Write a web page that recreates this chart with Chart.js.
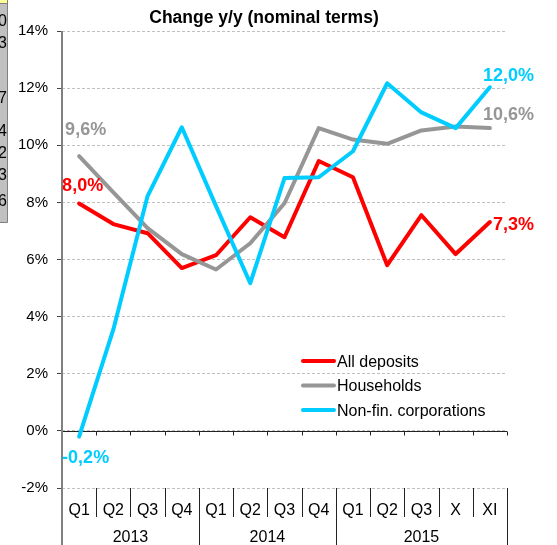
<!DOCTYPE html>
<html><head><meta charset="utf-8">
<script src="https://cdn.jsdelivr.net/npm/chart.js@4/dist/chart.umd.min.js"></script>
<style>html,body{margin:0;padding:0;background:#fff}canvas{display:block}</style>
</head><body>
<canvas id="c" width="557" height="545"></canvas>
<script>
const categories = ['Q1','Q2','Q3','Q4','Q1','Q2','Q3','Q4','Q1','Q2','Q3','X','XI'];
const years = ['2013','2014','2015'];
const yearSpans = [4,4,5];
const allDeposits = [7.96,7.24,6.92,5.70,6.15,7.48,6.78,9.45,8.88,5.80,7.55,6.19,7.31];
const households  = [9.62,8.35,7.10,6.19,5.65,6.57,7.97,10.60,10.20,10.05,10.52,10.66,10.60];
const nonFinCorp  = [-0.20,3.55,8.22,10.63,7.87,5.17,8.85,8.88,9.79,12.17,11.15,10.60,12.03];
const seriesNames = ['All deposits','Households','Non-fin. corporations'];
const yTicks = [-2,0,2,4,6,8,10,12,14];
const titleText = 'Change y/y (nominal terms)';
const fragmentDigits = ['0','3','7','4','2','3','6'];

const FONT = '"Liberation Sans", Arial, sans-serif';
const colors = ['#ff0000','#969696','#00ccff'];
const fmt = v => v.toFixed(1).replace('.', ',') + '%';

// label placement per series: [first dx, first dy, last dx, last dy] (relative to point, baseline)
const labelOffsets = [
  [-17, -13, 3, 8],
  [-14, -21, -7, -8],
  [-17, 26, -7, -6]
];

const deco = {
  id: 'deco',
  beforeDraw(chart) {
    const ctx = chart.ctx;
    ctx.save();
    ctx.fillStyle = '#fff';
    ctx.fillRect(0, 0, chart.width, chart.height);
    ctx.restore();
  },
  beforeDatasetsDraw(chart) {
    const ctx = chart.ctx, xs = chart.scales.x, ys = chart.scales.y, ca = chart.chartArea;
    const z = Math.round(ys.getPixelForValue(0)) + 0.5;
    const w = xs.getPixelForValue(1) - xs.getPixelForValue(0);
    const x0 = xs.getPixelForValue(0) - w / 2;
    ctx.save();
    ctx.strokeStyle = '#222';
    ctx.lineWidth = 1;
    ctx.beginPath();
    ctx.moveTo(ca.left, z); ctx.lineTo(ca.right, z);
    for (let i = 1; i <= categories.length; i++) {
      const bx = Math.round(x0 + i * w) + 0.5;
      ctx.moveTo(bx, z); ctx.lineTo(bx, z + 4);
    }
    ctx.stroke();
    ctx.restore();
  },
  afterDraw(chart) {
    const ctx = chart.ctx, xs = chart.scales.x, ys = chart.scales.y, ca = chart.chartArea;
    const w = xs.getPixelForValue(1) - xs.getPixelForValue(0);
    const x0 = xs.getPixelForValue(0) - w / 2;
    ctx.save();
    // y axis line, extending through the category label area
    ctx.strokeStyle = '#808080';
    ctx.lineWidth = 2;
    ctx.beginPath();
    ctx.moveTo(ca.left, ca.top); ctx.lineTo(ca.left, chart.height);
    ctx.stroke();
    // category separators
    const yearBounds = [0];
    yearSpans.reduce((a, n) => { yearBounds.push(a + n); return a + n; }, 0);
    ctx.strokeStyle = '#222';
    ctx.lineWidth = 1;
    ctx.beginPath();
    for (let i = 1; i <= categories.length; i++) {
      const bx = Math.round(x0 + i * w) + 0.5;
      const isYear = yearBounds.includes(i);
      ctx.moveTo(bx, ca.bottom); ctx.lineTo(bx, isYear ? chart.height : ca.bottom + 29);
    }
    ctx.stroke();
    // category labels
    ctx.fillStyle = '#000';
    ctx.font = '16px ' + FONT;
    ctx.textAlign = 'center';
    ctx.textBaseline = 'alphabetic';
    categories.forEach((c, i) => ctx.fillText(c, xs.getPixelForValue(i), ca.bottom + 27));
    years.forEach((yv, k) => {
      const a = x0 + yearBounds[k] * w, b = x0 + yearBounds[k + 1] * w;
      ctx.fillText(yv, (a + b) / 2, ca.bottom + 54);
    });
    // data labels
    ctx.font = 'bold 18px ' + FONT;
    ctx.textAlign = 'left';
    chart.data.datasets.forEach((ds, si) => {
      const d = ds.data, n = d.length - 1, off = labelOffsets[si];
      ctx.fillStyle = colors[si];
      ctx.fillText(fmt(d[0]), xs.getPixelForValue(0) + off[0], ys.getPixelForValue(d[0]) + off[1]);
      ctx.fillText(fmt(d[n]), xs.getPixelForValue(n) + off[2], ys.getPixelForValue(d[n]) + off[3]);
    });
    // legend
    ctx.font = '16px ' + FONT;
    ctx.lineCap = 'round';
    seriesNames.forEach((name, si) => {
      const cy = 361 + si * 24.5;
      ctx.strokeStyle = colors[si];
      ctx.lineWidth = 4;
      ctx.beginPath(); ctx.moveTo(303, cy); ctx.lineTo(334, cy); ctx.stroke();
      ctx.fillStyle = '#000';
      ctx.fillText(name, 337, cy + 5.7);
    });
    // title
    ctx.font = 'bold 17.5px ' + FONT;
    ctx.textAlign = 'center';
    ctx.fillStyle = '#000';
    ctx.fillText(titleText, 264, 23);
    // cropped fragment of a neighbouring table at the left edge
    ctx.fillStyle = '#ffff99';
    ctx.fillRect(0, 0, 8, 3);
    ctx.fillStyle = '#c0c0c0';
    ctx.fillRect(0, 3, 8, 219);
    ctx.strokeStyle = '#808080';
    ctx.lineWidth = 1;
    ctx.beginPath();
    ctx.moveTo(7.5, 0); ctx.lineTo(7.5, 222.5); ctx.lineTo(0, 222.5);
    ctx.moveTo(0, 3.5); ctx.lineTo(7.5, 3.5);
    ctx.stroke();
    ctx.beginPath(); ctx.rect(0, 3, 7, 219); ctx.clip();
    ctx.fillStyle = '#000';
    ctx.font = '16px ' + FONT;
    ctx.textAlign = 'right';
    const fragY = [26, 48, 103, 136, 158, 180, 206];
    fragmentDigits.forEach((dg, k) => ctx.fillText(dg, 7, fragY[k]));
    ctx.restore();
  }
};

const mk = (label, data, color, order) => ({
  label, data, borderColor: color, backgroundColor: color, borderWidth: 4,
  pointRadius: 0, tension: 0, fill: false, order,
  borderJoinStyle: 'round', borderCapStyle: 'round'
});

new Chart(document.getElementById('c'), {
  type: 'line',
  data: {
    labels: categories,
    datasets: [
      mk(seriesNames[0], allDeposits, colors[0], 3),
      mk(seriesNames[1], households, colors[1], 2),
      mk(seriesNames[2], nonFinCorp, colors[2], 1)
    ]
  },
  options: {
    responsive: false,
    animation: false,
    events: [],
    layout: { padding: { top: 31, right: 50, bottom: 57, left: 0 } },
    plugins: { legend: { display: false }, title: { display: false }, tooltip: { enabled: false } },
    scales: {
      x: { type: 'category', offset: true, display: false },
      y: {
        min: -2, max: 14,
        afterFit(s) { s.width = 62; },
        afterBuildTicks(s) { s.ticks = yTicks.map(v => ({ value: v })); },
        ticks: { padding: 9, color: '#000', font: { family: FONT, size: 15 }, callback: v => v + '%' },
        grid: { color: '#c0c0c0', tickColor: '#444', tickLength: 5, lineWidth: 1 },
        border: { display: false, dash: [3, 2] }
      }
    }
  },
  plugins: [deco]
});
</script>
</body></html>
